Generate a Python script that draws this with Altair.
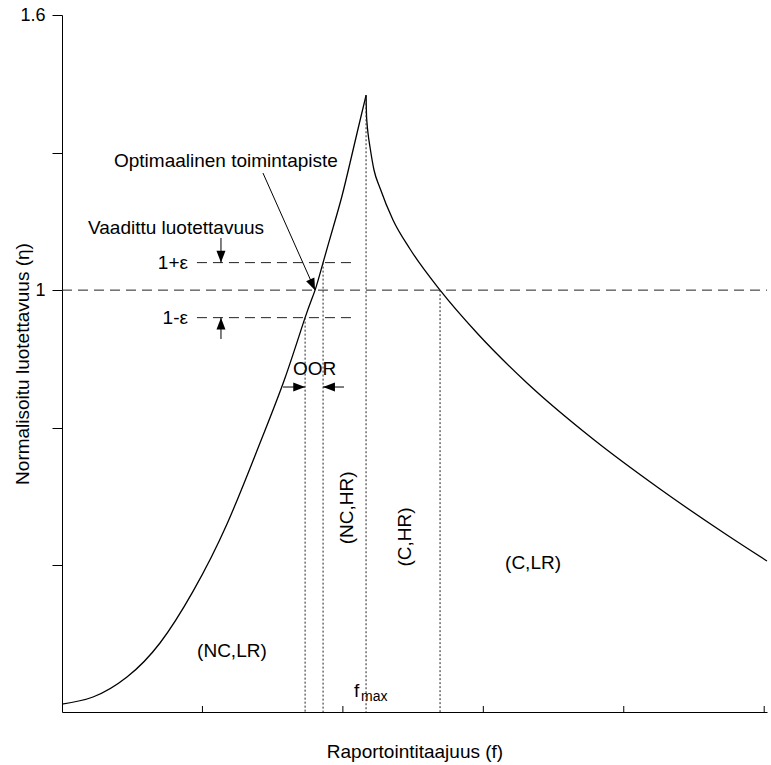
import altair as alt
import pandas as pd

FONT = "Liberation Sans"

# Normalised reliability eta(f): rising branch up to f_max
rise_f = [0.0, 0.2207, 0.4628, 0.6978, 0.9328, 1.1749, 1.4099, 1.5879, 1.731, 1.802,
          1.859, 1.9296, 1.9937, 2.0507, 2.1077, 2.165]
rise_eta = [0.0974, 0.1127, 0.1563, 0.2305, 0.343, 0.49, 0.6666, 0.8084, 0.94, 1.0,
            1.06, 1.1355, 1.2053, 1.2772, 1.3514, 1.425]
# falling branch after f_max
fall_f = [2.165, 2.1682, 2.1718, 2.1788, 2.1931, 2.2216, 2.2643, 2.3569, 2.4779, 2.692,
          2.955, 3.311, 3.781, 4.258, 4.7351, 5.0199]
fall_eta = [1.425, 1.3819, 1.3645, 1.3427, 1.3121, 1.262, 1.2227, 1.1529, 1.0897, 1.0,
            0.9065, 0.7975, 0.6753, 0.5663, 0.466, 0.4093]

eps = 0.06          # required reliability band 1 +/- eps
f_lo = 1.731        # curve meets 1 - eps
f_opt = 1.802       # optimal operating point, eta = 1
f_hi = 1.859        # curve meets 1 + eps
f_max = 2.165       # peak
f_one = 2.692       # falling branch back at eta = 1
eta_peak = 1.425

x_ticks = [1, 2, 3, 4, 5]
y_ticks = [0.4, 0.7, 1.0, 1.3, 1.6]

X_DOM = [0, 5.02]
Y_DOM = [0.08, 1.6]

xs = alt.Scale(domain=X_DOM, nice=False, zero=False)
ys = alt.Scale(domain=Y_DOM, nice=False, zero=False)

x_axis = alt.Axis(
    title="Raportointitaajuus (f)", labels=False, ticks=False, grid=False,
    domainColor="black", domainWidth=1,
    titleFont=FONT, titleFontSize=19, titleFontWeight="normal", titleColor="black",
    titleX=352.5, titleY=45, titleBaseline="alphabetic", titleAlign="center",
)
y_axis = alt.Axis(
    title="Normalisoitu luotettavuus (η)", values=y_ticks,
    labelExpr="datum.value == 1 ? '1' : datum.value == 1.6 ? '1.6' : ''",
    tickSize=10, tickColor="black", labelPadding=7, grid=False,
    domainColor="black", domainWidth=1,
    labelFont=FONT, labelFontSize=18, labelColor="black",
    titleFont=FONT, titleFontSize=19, titleFontWeight="normal", titleColor="black",
    titleX=-34, titleY=348.5, titleAngle=270, titleBaseline="alphabetic", titleAlign="center",
)


def X(field):
    return alt.X(field, type="quantitative", scale=xs, axis=x_axis)


def Y(field):
    return alt.Y(field, type="quantitative", scale=ys, axis=y_axis)


rise = pd.DataFrame({"f": rise_f, "eta": rise_eta})
fall = pd.DataFrame({"f": fall_f, "eta": fall_eta})
rise_layer = alt.Chart(rise).mark_line(color="black", strokeWidth=1.3, interpolate="natural").encode(
    x=X("f"), y=Y("eta"),
)
fall_layer = alt.Chart(fall).mark_line(color="black", strokeWidth=1.3, interpolate="monotone").encode(
    x=X("f"), y=Y("eta"),
)

# inward-pointing ticks on the frequency axis
xtick_layer = alt.Chart(pd.DataFrame({"f": x_ticks})).mark_rule(color="black", strokeWidth=1).encode(
    x=X("f"), y=alt.value(697), y2=alt.value(691),
)

# dashed horizontal reference levels
hlines = pd.DataFrame({
    "x": [X_DOM[0], 0.961, 0.961],
    "x2": [X_DOM[1], 2.086, 2.086],
    "y": [1.0, 1 + eps, 1 - eps],
})
hline_layer = alt.Chart(hlines).mark_rule(color="#222", strokeWidth=1, strokeDash=[10, 6]).encode(
    x=X("x"), x2="x2:Q", y=Y("y"),
)

# dotted vertical region borders
vlines = pd.DataFrame({
    "x": [f_lo, f_hi, f_max, f_one],
    "y": [1 - eps, 1 + eps, eta_peak, 1.0],
    "y2": [Y_DOM[0]] * 4,
})
vline_layer = alt.Chart(vlines).mark_rule(color="#222", strokeWidth=1, strokeDash=[2, 2]).encode(
    x=X("x"), y=Y("y"), y2="y2:Q",
)

# annotation arrows: shafts and heads
DOWN = "M0,0L-0.38,-1L0.38,-1Z"
UP = "M0,0L-0.38,1L0.38,1Z"
RIGHT = "M0,0L-1,-0.38L-1,0.38Z"
LEFT = "M0,0L1,-0.38L1,0.38Z"
arrows = pd.DataFrame({
    "x": [1.132, 1.132, 1.574, 2.008, 1.431],
    "y": [1.1137, 0.8934, 0.7887, 0.7887, 1.2554],
    "x2": [1.132, 1.132, f_lo, f_hi, f_opt],
    "y2": [1 + eps, 1 - eps, 0.7887, 0.7887, 1.0],
    "shape": [DOWN, UP, RIGHT, LEFT, DOWN],
    "angle": [0, 0, 0, 0, 336],
})
shaft_layer = alt.Chart(arrows).mark_rule(color="black", strokeWidth=1).encode(
    x=X("x"), x2="x2:Q", y=Y("y"), y2="y2:Q",
)
head_layer = alt.Chart(arrows).mark_point(filled=True, color="black", opacity=1, size=560, strokeWidth=0).encode(
    x=X("x2"), y=Y("y2"),
    shape=alt.Shape("shape:N", scale=None),
    angle=alt.Angle("angle:Q", scale=None),
)


def text_layer(rows, align, angle=0, size=19, baseline="middle"):
    df = pd.DataFrame(rows, columns=["x", "y", "text"])
    return alt.Chart(df).mark_text(
        font=FONT, fontSize=size, color="black", align=align, baseline=baseline, angle=angle,
    ).encode(x=X("x"), y=Y("y"), text="text:N")


left_texts = text_layer([
    (0.370, 1.2816, "Optimaalinen toimintapiste"),
    (0.185, 1.1355, "Vaadittu luotettavuus"),
    (1.645, 0.828, "OOR"),
], "left")
right_texts = text_layer([
    (0.897, 1 + eps, "1+ε"),
    (0.897, 1 - eps, "1-ε"),
], "right")
center_texts = text_layer([
    (3.354, 0.405, "(C,LR)"),
    (1.210, 0.213, "(NC,LR)"),
], "center")
rot_texts = text_layer([
    (2.029, 0.525, "(NC,HR)"),
    (2.442, 0.4616, "(C,HR)"),
], "center", angle=270)
fmax_text = text_layer([(2.079, 0.1127, "f")], "left", baseline="alphabetic")
fmax_sub = text_layer([(2.129, 0.104, "max")], "left", size=14, baseline="alphabetic")

chart = alt.layer(
    rise_layer, fall_layer, xtick_layer, hline_layer, vline_layer, shaft_layer, head_layer,
    left_texts, right_texts, center_texts, rot_texts, fmax_text, fmax_sub,
).properties(
    width=705, height=697,
    autosize=alt.AutoSizeParams(type="none"),
    padding={"left": 62, "top": 15, "right": 4, "bottom": 53},
    background="white",
).configure_view(stroke=None)

chart.save("out.html", embed_options={"renderer": "svg", "actions": False})
